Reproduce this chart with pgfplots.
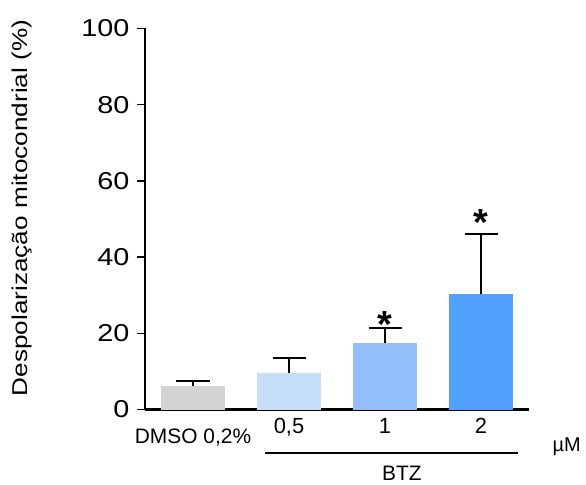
\documentclass[border=0pt]{standalone}
\usepackage{pgfplots}
\pgfplotsset{compat=1.18}
\usepackage{fontspec}
\setmainfont{Liberation Sans}
\usepackage{graphicx}

\definecolor{cdmso}{RGB}{211,211,211}
\definecolor{cbtzA}{RGB}{199,222,248}
\definecolor{cbtzB}{RGB}{146,190,249}
\definecolor{cbtzC}{RGB}{82,160,255}

\begin{document}
\begin{tikzpicture}
\path[use as bounding box] (0,0) rectangle (586bp,485bp);
\clip (0,0) rectangle (586bp,485bp);
\begin{axis}[
  at={(145bp,75.5bp)}, anchor=south west,
  scale only axis, width=384bp, height=381bp,
  xmin=-0.5, xmax=3.5, ymin=0, ymax=100,
  axis lines=left,
  axis line style={-, line width=2bp, black},
  ytick={0,20,40,60,80,100},
  tick align=outside,
  ytick style={line width=1.5bp, black},
  major tick length=8bp,
  xtick={0,1,2,3},
  xtick style={/pgfplots/major tick length=0pt, draw=none},
  xticklabels={{\raisebox{-10bp}{\fontsize{21}{24}\selectfont DMSO 0,2\%}},{0,5},{1},{2}},
  xticklabel style={anchor=base, yshift=-16.5bp, font=\fontsize{22}{24}\selectfont},
  yticklabel={\scalebox{1.18}[1]{\pgfmathprintnumber{\tick}}},
  yticklabel style={font=\fontsize{24.5}{26}\selectfont, xshift=-4bp},
  /pgf/number format/assume math mode=true,
  ylabel={\scalebox{1.22}[1]{Despolarização mitocondrial (\%)}},
  ylabel style={font=\fontsize{21.5}{24}\selectfont, at={(axis description cs:-0.3203,0.529)}, anchor=center},
  ybar, bar shift=0pt, bar width=0.67,
  clip=false,
  error bars/y dir=plus, error bars/y explicit,
  error bars/error mark=|,
  error bars/error bar style={line width=2bp, black},
  error bars/error mark options={mark size=16.5bp, line width=2bp, black},
]
\addplot[fill=cdmso, draw=none] coordinates {(0,6.2) +- (0,1.3)};
\addplot[fill=cbtzA, draw=none] coordinates {(1,9.7) +- (0,3.9)};
\addplot[fill=cbtzB, draw=none] coordinates {(2,17.5) +- (0,3.8)};
\addplot[fill=cbtzC, draw=none] coordinates {(3,30.3) +- (0,15.8)};
% significance marks
\node[anchor=base, yshift=-21bp, font=\fontsize{38}{38}\selectfont\bfseries] at (axis cs:2,24.5) {*};
\node[anchor=base, yshift=-21bp, font=\fontsize{38}{38}\selectfont\bfseries] at (axis cs:3,51.3) {*};
\end{axis}
% BTZ group bracket and unit
\draw[line width=1.5bp] (265bp,32bp) -- (518bp,32bp);
\node[anchor=base, font=\fontsize{21}{24}\selectfont, inner sep=0pt] at (402bp,4.5bp) {BTZ};
\node[anchor=base, font=\fontsize{20}{24}\selectfont, inner sep=0pt] at (566.7bp,34bp) {µM};
\end{tikzpicture}
\end{document}
